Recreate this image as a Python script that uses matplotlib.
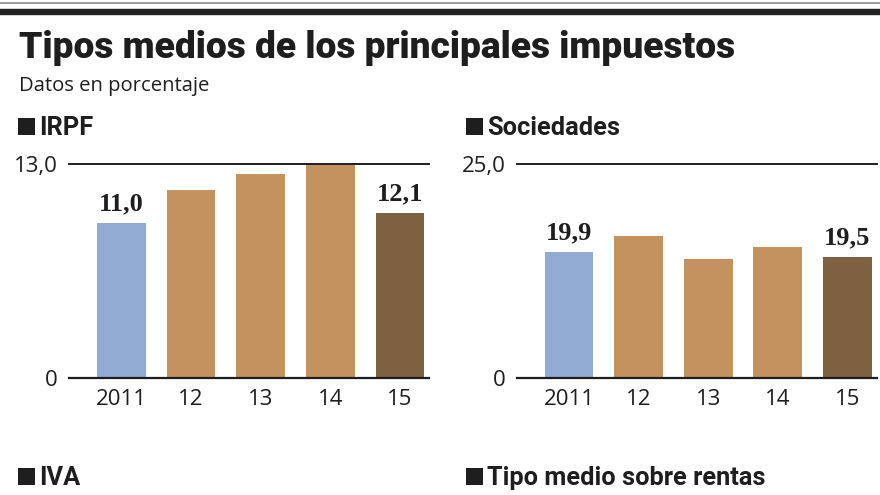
import matplotlib
matplotlib.use("Agg")
import matplotlib.pyplot as plt
from matplotlib.patches import Rectangle
from matplotlib.lines import Line2D

# ---------------- data ----------------
years = ["2011", "12", "13", "14", "15"]
irpf_values = [9.4, 11.4, 12.4, 13.0, 10.0]
irpf_labels = ["11,0", "", "", "", "12,1"]
irpf_ymax = 13.0
irpf_yticklabels = ["0", "13,0"]

soc_values = [14.7, 16.6, 13.9, 15.3, 14.1]
soc_labels = ["19,9", "", "", "", "19,5"]
soc_ymax = 25.0
soc_yticklabels = ["0", "25,0"]

title = "Tipos medios de los principales impuestos"
subtitle = "Datos en porcentaje"
panel_titles = ["IRPF", "Sociedades", "IVA", "Tipo medio sobre rentas"]

# ---------------- style ----------------
BLUE = "#92abd3"
TAN = "#c4925f"
BROWN = "#7e6140"
TXT = "#1e1e1e"
bar_colors = [BLUE, TAN, TAN, TAN, BROWN]

W, H = 880, 495
fig = plt.figure(figsize=(W / 100, H / 100), dpi=100)
fig.patch.set_facecolor("white")

def fx(x):
    return x / W

def fy(y):
    return 1 - y / H

HEAVY = ["Roboto", "DejaVu Sans"]
SANS = ["Open Sans", "DejaVu Sans"]
SERIF = ["Liberation Serif", "DejaVu Serif"]

# top decorative rules
fig.add_artist(Line2D([0, 1], [fy(3), fy(3)], color="#8a8a8a", lw=1.2, transform=fig.transFigure))
fig.add_artist(Line2D([0, 1], [fy(11.8), fy(11.8)], color="#222222", lw=4.6, transform=fig.transFigure))

# title / subtitle
fig.text(fx(19), fy(58), title, family=HEAVY, weight=900, fontsize=26.7,
         color=TXT, va="baseline", ha="left")
fig.text(fx(19), fy(91), subtitle, family=SANS, fontsize=14.6, color=TXT,
         va="baseline", ha="left")

def header(x_sq, x_txt, y_base, text):
    fig.add_artist(Rectangle((fx(x_sq), fy(y_base)), fx(17), 17.5 / H,
                             transform=fig.transFigure, color=TXT, lw=0))
    fig.text(fx(x_txt), fy(y_base), text, family=HEAVY, weight="bold",
             fontsize=18.3, color=TXT, va="baseline", ha="left")

header(18, 39, 135, panel_titles[0])
header(466, 487, 135, panel_titles[1])
header(18, 39, 485, panel_titles[2])
header(466, 487, 485, panel_titles[3])

def panel(x0, x1, y_top, y_bot, values, labels, ymax, yticklabels):
    ax = fig.add_axes([fx(x0), fy(y_bot), fx(x1 - x0), (y_bot - y_top) / H])
    xs = list(range(len(values)))
    ax.bar(xs, values, width=0.70, color=bar_colors, zorder=2)
    ax.set_xlim(-0.75, len(values) - 1 + 0.42)
    ax.set_ylim(0, ymax)
    for s in ["left", "right"]:
        ax.spines[s].set_visible(False)
    ax.spines["bottom"].set_linewidth(1.6)
    ax.spines["top"].set_linewidth(1.4)
    ax.spines["bottom"].set_color(TXT)
    ax.spines["top"].set_color(TXT)
    ax.set_yticks([0, ymax])
    ax.set_yticklabels(yticklabels, family=SANS, fontsize=16, color=TXT)
    ax.set_xticks(xs)
    ax.set_xticklabels(years, family=SANS, fontsize=16, color=TXT)
    ax.tick_params(axis="both", length=0)
    ax.tick_params(axis="y", pad=8)
    ax.tick_params(axis="x", pad=8)
    for x, v, lab in zip(xs, values, labels):
        if lab:
            ax.annotate(lab, (x, v), xytext=(0, 5.5), textcoords="offset points",
                        ha="center", va="bottom", family=SERIF, weight="bold",
                        fontsize=19, color=TXT)
    ax.set_facecolor("none")
    return ax

panel(69, 429.3, 164, 377.7, irpf_values, irpf_labels, irpf_ymax, irpf_yticklabels)
panel(516.7, 876.7, 164, 377.7, soc_values, soc_labels, soc_ymax, soc_yticklabels)

fig.savefig("out.png", dpi=100, facecolor="white")
